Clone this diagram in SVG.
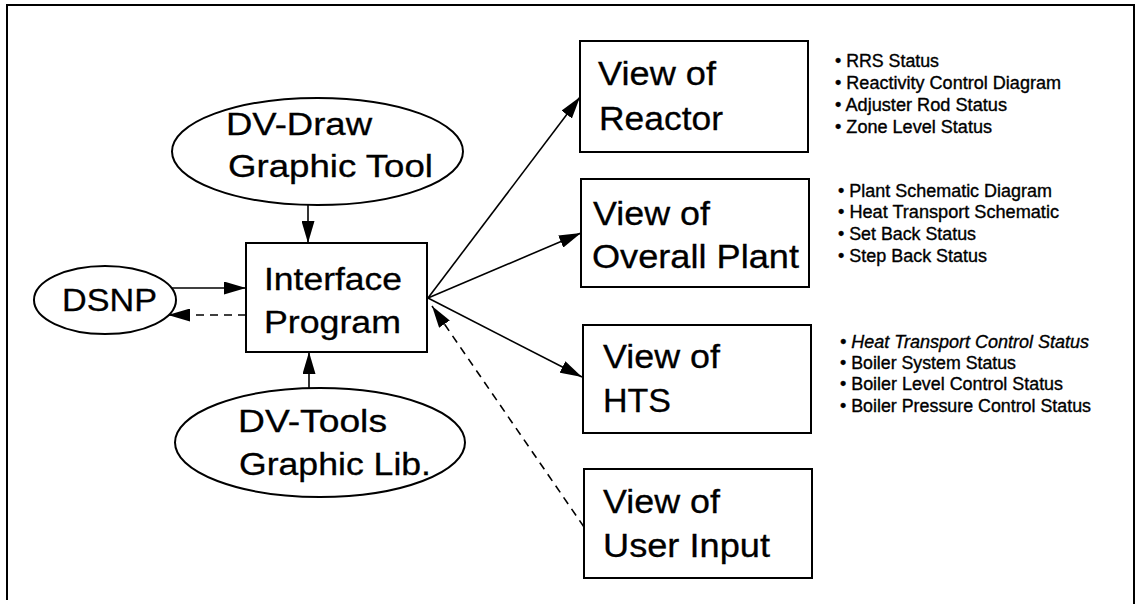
<svg xmlns="http://www.w3.org/2000/svg" width="1140" height="604" viewBox="0 0 1140 604">
<style>
  .shape { fill: #fff; stroke: #000; stroke-width: 2; }
  .big { font-family: "Liberation Sans", Arial, sans-serif; font-size: 31px; fill: #000; stroke: #000; stroke-width: 0.3; }
  .view { font-family: "Liberation Sans", Arial, sans-serif; font-size: 33px; fill: #000; stroke: #000; stroke-width: 0.3; }
  .item { font-family: "Liberation Sans", Arial, sans-serif; font-size: 17.5px; fill: #000; stroke: #000; stroke-width: 0.35; }
  .it { font-style: italic; }
  .conn { fill: none; stroke: #000; stroke-width: 1.6; }
  .dash { stroke-dasharray: 8 6; }
</style>
<defs>
  <marker id="arr" viewBox="0 0 22 13" refX="22" refY="6.5" markerWidth="22" markerHeight="13" markerUnits="userSpaceOnUse" orient="auto">
    <path d="M0,0 L22,6.5 L0,13 z" fill="#000"/>
  </marker>
</defs>
<rect width="1140" height="604" fill="#fff"/>
<path d="M7,600 V5 H1134 V604" fill="none" stroke="#000" stroke-width="2"/>

<g id="connectors">
  <line class="conn" x1="308" y1="205" x2="308" y2="243" marker-end="url(#arr)"/>
  <line class="conn" x1="165" y1="288" x2="246" y2="288" marker-end="url(#arr)"/>
  <line class="conn dash" x1="246" y1="315" x2="168" y2="315" marker-end="url(#arr)"/>
  <line class="conn" x1="309" y1="388" x2="309" y2="352" marker-end="url(#arr)"/>
  <line class="conn" x1="428" y1="298" x2="580" y2="97" marker-end="url(#arr)"/>
  <line class="conn" x1="428" y1="298" x2="581" y2="233" marker-end="url(#arr)"/>
  <line class="conn" x1="428" y1="298" x2="582" y2="377" marker-end="url(#arr)"/>
  <line class="conn dash" x1="584" y1="527" x2="432" y2="306" marker-end="url(#arr)"/>
</g>

<g id="dvdraw">
  <ellipse class="shape" cx="317.5" cy="151.5" rx="145.5" ry="53.5"/>
  <text class="big" x="226" y="135" textLength="146" lengthAdjust="spacingAndGlyphs">DV-Draw</text>
  <text class="big" x="228" y="177" textLength="205" lengthAdjust="spacingAndGlyphs">Graphic Tool</text>
</g>

<g id="dsnp">
  <ellipse class="shape" cx="105" cy="300" rx="71" ry="34"/>
  <text class="big" x="62" y="311" textLength="95" lengthAdjust="spacingAndGlyphs">DSNP</text>
</g>

<g id="interface">
  <rect class="shape" x="246" y="243" width="181" height="109"/>
  <text class="big" x="264" y="290" textLength="138" lengthAdjust="spacingAndGlyphs">Interface</text>
  <text class="big" x="264" y="333" textLength="137" lengthAdjust="spacingAndGlyphs">Program</text>
</g>

<g id="dvtools">
  <ellipse class="shape" cx="320" cy="442.5" rx="145" ry="54.5"/>
  <text class="big" x="238" y="432" textLength="149" lengthAdjust="spacingAndGlyphs">DV-Tools</text>
  <text class="big" x="239" y="475" textLength="192" lengthAdjust="spacingAndGlyphs">Graphic Lib.</text>
</g>

<g id="reactor">
  <rect class="shape" x="580" y="41" width="228" height="111"/>
  <text class="view" x="598" y="85" textLength="118" lengthAdjust="spacingAndGlyphs">View of</text>
  <text class="view" x="599" y="130" textLength="124" lengthAdjust="spacingAndGlyphs">Reactor</text>
</g>

<g id="overall">
  <rect class="shape" x="581" y="179" width="228" height="108"/>
  <text class="view" x="593" y="225" textLength="117" lengthAdjust="spacingAndGlyphs">View of</text>
  <text class="view" x="592" y="268" textLength="207" lengthAdjust="spacingAndGlyphs">Overall Plant</text>
</g>

<g id="hts">
  <rect class="shape" x="583" y="325" width="228" height="108"/>
  <text class="view" x="603" y="368" textLength="117" lengthAdjust="spacingAndGlyphs">View of</text>
  <text class="view" x="603" y="412" textLength="68" lengthAdjust="spacingAndGlyphs">HTS</text>
</g>

<g id="userinput">
  <rect class="shape" x="584" y="469" width="228" height="109"/>
  <text class="view" x="603" y="513" textLength="117" lengthAdjust="spacingAndGlyphs">View of</text>
  <text class="view" x="603" y="557" textLength="167" lengthAdjust="spacingAndGlyphs">User Input</text>
</g>

<g id="reactor-list">
  <text class="item" x="835" y="67" textLength="104" lengthAdjust="spacingAndGlyphs">• RRS Status</text>
  <text class="item" x="835" y="89" textLength="226" lengthAdjust="spacingAndGlyphs">• Reactivity Control Diagram</text>
  <text class="item" x="835" y="111" textLength="172" lengthAdjust="spacingAndGlyphs">• Adjuster Rod Status</text>
  <text class="item" x="835" y="133" textLength="157" lengthAdjust="spacingAndGlyphs">• Zone Level Status</text>
</g>

<g id="overall-list">
  <text class="item" x="838" y="197" textLength="214" lengthAdjust="spacingAndGlyphs">• Plant Schematic Diagram</text>
  <text class="item" x="838" y="218" textLength="221" lengthAdjust="spacingAndGlyphs">• Heat Transport Schematic</text>
  <text class="item" x="838" y="240" textLength="138" lengthAdjust="spacingAndGlyphs">• Set Back Status</text>
  <text class="item" x="838" y="262" textLength="149" lengthAdjust="spacingAndGlyphs">• Step Back Status</text>
</g>

<g id="hts-list">
  <text class="item it" x="840" y="348" textLength="249" lengthAdjust="spacingAndGlyphs">• Heat Transport Control Status</text>
  <text class="item" x="840" y="369" textLength="176" lengthAdjust="spacingAndGlyphs">• Boiler System Status</text>
  <text class="item" x="840" y="390" textLength="223" lengthAdjust="spacingAndGlyphs">• Boiler Level Control Status</text>
  <text class="item" x="840" y="412" textLength="251" lengthAdjust="spacingAndGlyphs">• Boiler Pressure Control Status</text>
</g>
</svg>
